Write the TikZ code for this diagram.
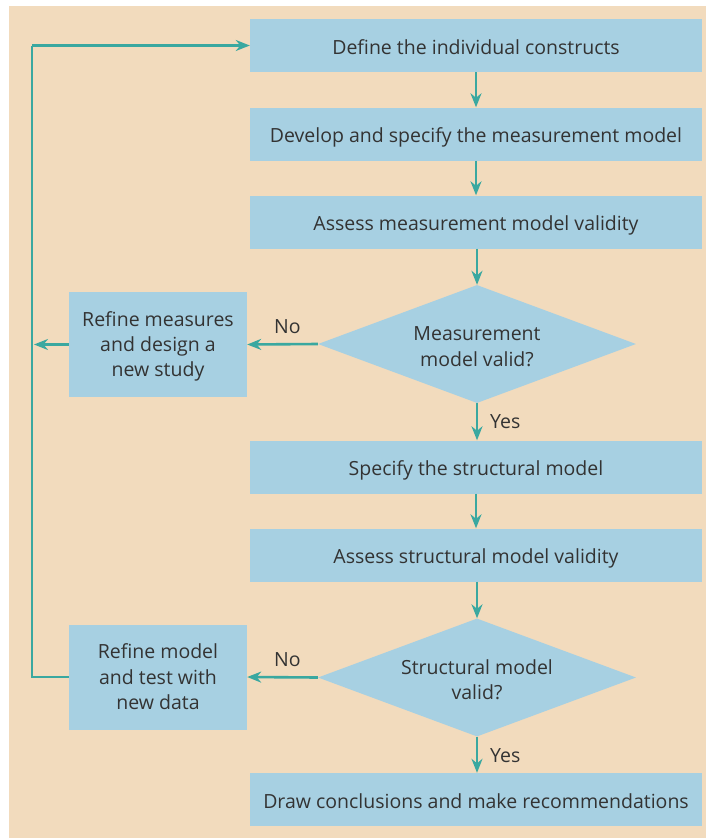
\documentclass[tikz,border=0pt]{standalone}
\usepackage{fontspec}
\setmainfont{Open Sans}
\usetikzlibrary{shapes.geometric,arrows.meta}
\definecolor{paper}{HTML}{F2DBBD}
\definecolor{boxfill}{HTML}{A7D0E2}
\definecolor{flow}{HTML}{3AA8A0}
\definecolor{ink}{HTML}{333333}
% centred block of lines with a fixed line pitch, lowered by #1 without changing its extent
\newcommand\textlines[2][3.6pt]{\raisebox{-#1}[\height][\depth]{\begin{tabular}{@{}c@{}}#2\end{tabular}}}
\tikzset{
  every node/.style={text=ink, font=\fontsize{19.5}{25.3}\selectfont},
  stepbox/.style={rectangle, fill=boxfill, minimum width=452pt, minimum height=53pt, inner sep=0pt},
  sidebox/.style={rectangle, fill=boxfill, minimum width=178pt, minimum height=105pt, inner sep=0pt},
  decision/.style={diamond, fill=boxfill, minimum width=318pt, minimum height=118pt, inner sep=0pt, shape aspect=2.7},
  flowline/.style={draw=flow, line width=2.6pt},
  flowarrow/.style={flowline, -{Stealth[length=14pt, width=11pt, inset=4.5pt]}},
  answer/.style={anchor=west, inner sep=0pt}
}
\begin{document}
\begin{tikzpicture}[x=1pt, y=-1pt]
  \useasboundingbox (0,0) rectangle (708,838);
  \fill[white] (0,0) rectangle (708,838);
  \fill[paper] (9,6) rectangle (706,838);

  % main column
  \node[stepbox] (define) at (476,45.5) {\textlines{Define the individual constructs}};
  \node[stepbox] (develop) at (476,134) {\textlines{Develop and specify the measurement model}};
  \node[stepbox] (assessM) at (476,222) {\textlines{Assess measurement model validity}};
  \node[decision] (validM) at (477,344) {\textlines[4.3pt]{Measurement\\model valid?}};
  \node[stepbox] (specify) at (476,467) {\textlines{Specify the structural model}};
  \node[stepbox] (assessS) at (476,555) {\textlines{Assess structural model validity}};
  \node[decision] (validS) at (477,677.5) {\textlines[4.3pt]{Structural model\\valid?}};
  \node[stepbox] (conclude) at (476,799.5) {\textlines{Draw conclusions and make recommendations}};

  % side boxes
  \node[sidebox] (refineM) at (158,344.5) {\textlines[2pt]{Refine measures\\and design a\\new study}};
  \node[sidebox] (refineS) at (158,677) {\textlines[2pt]{Refine model\\and test with\\new data}};

  % feedback line on the left
  \coordinate (loopTop) at (32,45.5);
  \coordinate (loopMid) at (32,344.5);
  \coordinate (loopBot) at (32,677);

  % forward arrows
  \draw[flowarrow] (define) -- (develop);
  \draw[flowarrow] (develop) -- (assessM);
  \draw[flowarrow] ([xshift=1pt]assessM.south) -- (validM.north);
  \draw[flowarrow] (validM.south) -- ([xshift=1pt]specify.north);
  \draw[flowarrow] (specify) -- (assessS);
  \draw[flowarrow] ([xshift=1pt]assessS.south) -- (validS.north);
  \draw[flowarrow] (validS.south) -- ([xshift=1pt]conclude.north);

  % "No" branches
  \draw[flowarrow] (validM.west) -- (refineM.east);
  \draw[flowarrow] (validS.west) -- (refineS.east);
  \draw[flowarrow] (refineM.west) -- ([xshift=2pt]loopMid);
  \draw[flowline] (refineS.west) -- (loopBot) -- (loopTop);
  \draw[flowarrow] (loopTop) -- (define.west);

  % branch labels
  \node[answer] (noM) at (274,327) {No};
  \node[answer] (yesM) at (490,422) {Yes};
  \node[answer] (noS) at (274,660) {No};
  \node[answer] (yesS) at (490,756) {Yes};
\end{tikzpicture}
\end{document}
